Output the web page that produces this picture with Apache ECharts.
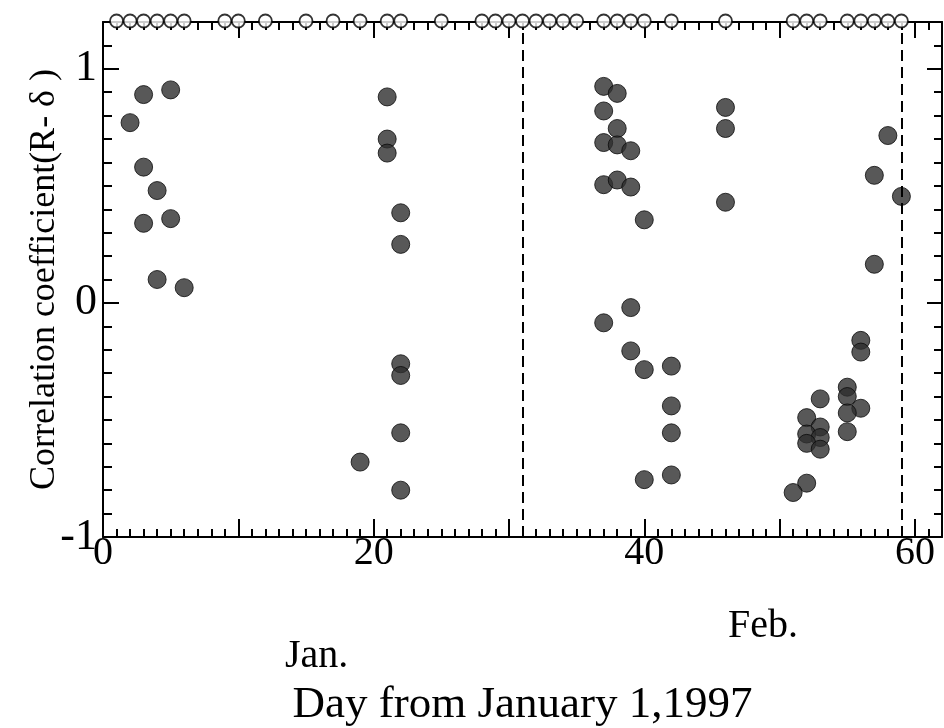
<!DOCTYPE html>
<html>
<head>
<meta charset="utf-8">
<script src="https://cdn.jsdelivr.net/npm/echarts@6/dist/echarts.min.js"></script>
<style>
  html, body { margin: 0; padding: 0; background: #fff; }
  #chart { width: 944px; height: 728px; }
</style>
</head>
<body>
<div id="chart"></div>
<script>
// days on which the correlation was computed (filled dots)
const dotDays = [
  2, 3, 3, 3, 4, 4, 5, 5, 6,
  19, 21, 21, 21, 22, 22, 22, 22, 22, 22,
  37, 38, 37, 38, 37, 38, 39, 37, 38, 39, 40,
  46, 46, 46, 39, 37, 39, 40, 42, 42, 42, 40, 42,
  58, 57, 59, 57, 56, 56, 55, 55, 56, 55, 55,
  53, 52, 53, 52, 53, 52, 53, 52, 51
]
const dotValues = [
  0.77, 0.89, 0.58, 0.34, 0.48, 0.10, 0.91, 0.36, 0.065,
  -0.68, 0.88, 0.70, 0.64, 0.385, 0.25, -0.26, -0.31, -0.555, -0.80,
  0.925, 0.895, 0.82, 0.745, 0.685, 0.675, 0.65, 0.505, 0.525, 0.495, 0.355,
  0.835, 0.745, 0.43, -0.02, -0.085, -0.205, -0.285, -0.27, -0.44, -0.555, -0.755, -0.735,
  0.715, 0.545, 0.455, 0.165, -0.16, -0.21, -0.36, -0.40, -0.45, -0.47, -0.55,
  -0.41, -0.49, -0.53, -0.56, -0.575, -0.60, -0.625, -0.77, -0.81
]
// observation days marked with open circles along the top frame
const obsDays = [1, 2, 3, 4, 5, 6, 9, 10, 12, 15, 17, 19, 21, 22, 25, 28, 29, 30, 31,
  32, 33, 34, 35, 37, 38, 39, 40, 42, 46, 51, 52, 53, 55, 56, 57, 58, 59]
// month boundaries (dashed lines)
const monthEnds = [31, 59]
const monthLabels = ['Jan.', 'Feb.']
const xTickLabels = [0, 20, 40, 60]
const yTickLabels = [-1, 0, 1]

const X_MIN = 0, X_MAX = 62
const Y_MIN = -1, Y_MAX = 1.2
const serif = '"Liberation Serif", "Times New Roman", serif'

const chart = echarts.init(document.getElementById('chart'))

// one axis for the short ticks, one for the long ticks + labels, per side
function xAx(position, interval, len, labels) {
  return {
    type: 'value', min: X_MIN, max: X_MAX, interval, position,
    axisLine: { show: interval === 1, onZero: false, lineStyle: { color: '#000', width: 2 } },
    axisTick: { show: true, inside: true, length: len, lineStyle: { color: '#000', width: 2 } },
    axisLabel: labels ? {
      show: true, margin: -4, fontFamily: serif, fontSize: 40, color: '#000',
      formatter: v => xTickLabels.includes(v) ? String(v) : ''
    } : { show: false },
    splitLine: { show: false }
  }
}
function yAx(position, interval, len, labels, name) {
  return {
    type: 'value', min: Y_MIN, max: Y_MAX, interval, position,
    axisLine: { show: interval < 1, onZero: false, lineStyle: { color: '#000', width: 2 } },
    axisTick: { show: true, inside: true, length: len, lineStyle: { color: '#000', width: 2 } },
    axisLabel: labels ? {
      show: true, margin: 6, fontFamily: serif, fontSize: 44, color: '#000',
      formatter: v => yTickLabels.includes(v) ? String(v) : ''
    } : { show: false },
    splitLine: { show: false },
    name: name || '',
    nameLocation: 'middle', nameRotate: 90, nameGap: 40, nameMoveOverlap: false,
    nameTextStyle: { fontFamily: serif, fontSize: 36, color: '#000' }
  }
}

const xAxes = [
  xAx('bottom', 1, 8, false),
  xAx('bottom', 10, 18, true),
  xAx('top', 1, 8, false),
  xAx('top', 10, 16, false)
]
xAxes[1].name = 'Day from January 1,1997'
xAxes[1].nameLocation = 'middle'
xAxes[1].nameGap = 146
xAxes[1].nameMoveOverlap = false
xAxes[1].nameTextStyle = { fontFamily: serif, fontSize: 45, color: '#000' }

chart.setOption({
  animation: false,
  backgroundColor: '#fff',
  grid: { left: 103, right: 2, top: 22, bottom: 191, containLabel: false, outerBoundsMode: 'none' },
  xAxis: xAxes,
  yAxis: [
    yAx('left', 0.1, 9, false),
    yAx('left', 1, 16, true, 'Correlation coefficient(R- \u03b4 )'),
    yAx('right', 0.1, 8, false),
    yAx('right', 1, 15, false)
  ],
  graphic: [
    { type: 'text', left: 316 - 31, top: 636, style: { text: monthLabels[0], font: '40px ' + serif, fill: '#000' } },
    { type: 'text', left: 764 - 36, top: 606, style: { text: monthLabels[1], font: '40px ' + serif, fill: '#000' } }
  ],
  series: [
    {
      type: 'scatter', xAxisIndex: 0, yAxisIndex: 0,
      data: obsDays.map(d => [d, Y_MAX]),
      symbol: 'circle', symbolSize: 13, symbolOffset: [0, -1],
      itemStyle: { color: '#fff', borderColor: '#000', borderWidth: 1.8 },
      clip: false, z: 5
    },
    {
      type: 'scatter', xAxisIndex: 0, yAxisIndex: 0,
      data: dotDays.map((d, i) => [d, dotValues[i]]),
      symbol: 'circle', symbolSize: 18,
      itemStyle: { color: '#2e2e2e', borderColor: '#0a0a0a', borderWidth: 1 },
      z: 4,
      markLine: {
        silent: true, symbol: 'none', label: { show: false },
        lineStyle: { color: '#000', width: 2, type: [11, 6] },
        data: monthEnds.map(d => ({ xAxis: d }))
      }
    }
  ]
})
</script>
</body>
</html>
